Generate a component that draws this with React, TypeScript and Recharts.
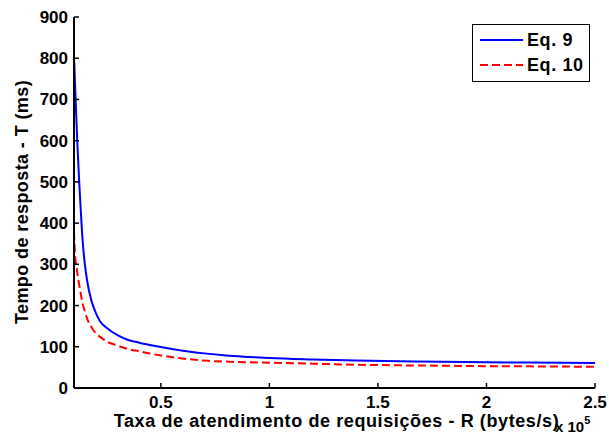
import React from "react";
import { LineChart, Line, XAxis, YAxis, Legend, Label } from "recharts";

// R in units of 1e5 bytes/s, T in ms
const R = [0.1, 0.105, 0.11, 0.115, 0.12, 0.125, 0.13, 0.14, 0.15, 0.16, 0.18, 0.2, 0.22, 0.25, 0.3, 0.35, 0.4, 0.45, 0.5, 0.6, 0.7, 0.8, 0.9, 1.0, 1.2, 1.4, 1.6, 1.8, 2.0, 2.2, 2.5];
const EQ9 = [805, 735, 665, 600, 543, 490, 442, 356, 300, 262, 212, 183, 162, 146, 128, 116.5, 110, 104.5, 99.5, 90.5, 84, 79, 75.5, 72.5, 69, 66.5, 64.8, 63.5, 62.5, 61.7, 60.5];
const EQ10 = [378, 322, 298, 281, 263, 247, 232, 204, 186, 169, 148, 133, 124, 113, 103, 94.5, 89, 83.5, 79, 71.5, 66.5, 64, 62.5, 61.5, 59, 56.5, 55, 54, 53, 52.5, 51.5];

const X_TICKS = [0.5, 1, 1.5, 2, 2.5];
const Y_TICKS = [0, 100, 200, 300, 400, 500, 600, 700, 800, 900];

const SERIES = [
  { key: "eq9", name: "Eq. 9", color: "#0000ff", dash: undefined as string | undefined },
  { key: "eq10", name: "Eq. 10", color: "#ff0000", dash: "8 4" },
];

const data = R.map((r, i) => ({ r, eq9: EQ9[i], eq10: EQ10[i] }));

const FONT = "'Liberation Sans', Arial, Helvetica, sans-serif";
const TXT = { fontFamily: FONT, fontWeight: 700, fontSize: 17, fill: "#000" };
const TITLE = { ...TXT, fontSize: 18 };
const TICK_LEN = 5;

// MATLAB style: ticks point inward, labels outside
const BottomTick = ({ x, y, payload }: any) => (
  <g>
    <line x1={x} x2={x} y1={y} y2={y - TICK_LEN} stroke="#000" strokeWidth={1.5} />
    <text x={x} y={y + 20} textAnchor="middle" style={TXT}>{String(payload.value)}</text>
  </g>
);
const TopTick = ({ x, y }: any) => (
  <line x1={x} x2={x} y1={y} y2={y + TICK_LEN} stroke="#000" strokeWidth={1.5} />
);
const LeftTick = ({ x, y, payload }: any) => (
  <g>
    <line x1={x} x2={x + TICK_LEN} y1={y} y2={y} stroke="#000" strokeWidth={1.5} />
    <text x={x - 6} y={y + 6} textAnchor="end" style={TXT}>{String(payload.value)}</text>
  </g>
);
const RightTick = ({ x, y }: any) => (
  <line x1={x} x2={x - TICK_LEN} y1={y} y2={y} stroke="#000" strokeWidth={1.5} />
);

const LegendBox = ({ payload }: any) => {
  const items = [...(payload || [])].sort(
    (a: any, b: any) => SERIES.findIndex((s) => s.name === a.value) - SERIES.findIndex((s) => s.name === b.value)
  );
  return (
    <div style={{ position: "relative", width: 118, height: 58, boxSizing: "border-box", border: "1px solid #000", background: "#fff" }}>
      {items.map((p: any, i: number) => {
        const s = SERIES.find((d) => d.name === p.value);
        return (
          <div key={p.value} style={{ position: "absolute", left: 7, top: 5 + i * 25, height: 20, display: "flex", alignItems: "center" }}>
            <svg width={43} height={4} style={{ display: "block" }}>
              <line x1={0} x2={43} y1={2} y2={2} stroke={p.color} strokeWidth={2} strokeDasharray={s?.dash} />
            </svg>
            <span style={{ marginLeft: 4, fontFamily: FONT, fontWeight: 700, fontSize: 18, letterSpacing: 0.6, color: "#000", lineHeight: "20px" }}>{p.value}</span>
          </div>
        );
      })}
    </div>
  );
};

const YTitle = ({ viewBox }: any) => {
  const cx = viewBox.x + 28;
  const cy = 202;
  return (
    <text x={cx} y={cy} textAnchor="middle" transform={`rotate(-90, ${cx}, ${cy})`} style={{ ...TITLE, letterSpacing: 0.4 }}>
      Tempo de resposta - T (ms)
    </text>
  );
};

const XTitle = ({ viewBox }: any) => (
  <text x={viewBox.x + viewBox.width / 2 + 2} y={viewBox.y + 39} textAnchor="middle" style={{ ...TITLE, letterSpacing: 0.6 }}>
    Taxa de atendimento de requisições - R (bytes/s)
  </text>
);

const XScale = ({ viewBox }: any) => (
  <text x={viewBox.x + viewBox.width - 40} y={viewBox.y + 44} style={{ ...TXT, fontSize: 15 }}>
    x 10<tspan dy={-8} fontSize={11}>5</tspan>
  </text>
);

export default function App() {
  return (
    <div style={{ position: "absolute", left: 0, top: 0, background: "#fff" }}>
      <LineChart width={609} height={439} data={data} margin={{ top: 17, right: 14, bottom: 0, left: 0 }}>
        <XAxis xAxisId="x" dataKey="r" type="number" domain={[0.1, 2.5]} ticks={X_TICKS} interval={0} allowDataOverflow
          height={51} tickSize={0} tickMargin={0} tick={<BottomTick />} axisLine={{ stroke: "#000", strokeWidth: 2 }}>
          <Label content={<XTitle />} />
          <Label content={<XScale />} />
        </XAxis>
        <XAxis xAxisId="xt" orientation="top" dataKey="r" type="number" domain={[0.1, 2.5]} ticks={X_TICKS} interval={0} allowDataOverflow
          height={0} tickSize={0} tickMargin={0} tick={<TopTick />} axisLine={{ stroke: "#000", strokeWidth: 2 }} />
        <YAxis yAxisId="y" type="number" domain={[0, 900]} ticks={Y_TICKS} interval={0} allowDataOverflow
          width={74} tickSize={0} tickMargin={0} tick={<LeftTick />} axisLine={{ stroke: "#000", strokeWidth: 2 }}>
          <Label content={<YTitle />} />
        </YAxis>
        <YAxis yAxisId="yr" orientation="right" type="number" domain={[0, 900]} ticks={Y_TICKS} interval={0} allowDataOverflow
          width={0} tickSize={0} tickMargin={0} tick={<RightTick />} axisLine={{ stroke: "#000", strokeWidth: 2 }} />
        <Legend layout="horizontal" verticalAlign="middle" align="center"
          wrapperStyle={{ left: 472, top: 24, width: 118, height: 58 }} content={<LegendBox />} />
        {SERIES.map((s) => (
          <Line key={s.key} xAxisId="x" yAxisId="y" type="monotone" dataKey={s.key} name={s.name} stroke={s.color}
            strokeWidth={2} strokeDasharray={s.dash} dot={false} activeDot={false} isAnimationActive={false} />
        ))}
      </LineChart>
    </div>
  );
}
